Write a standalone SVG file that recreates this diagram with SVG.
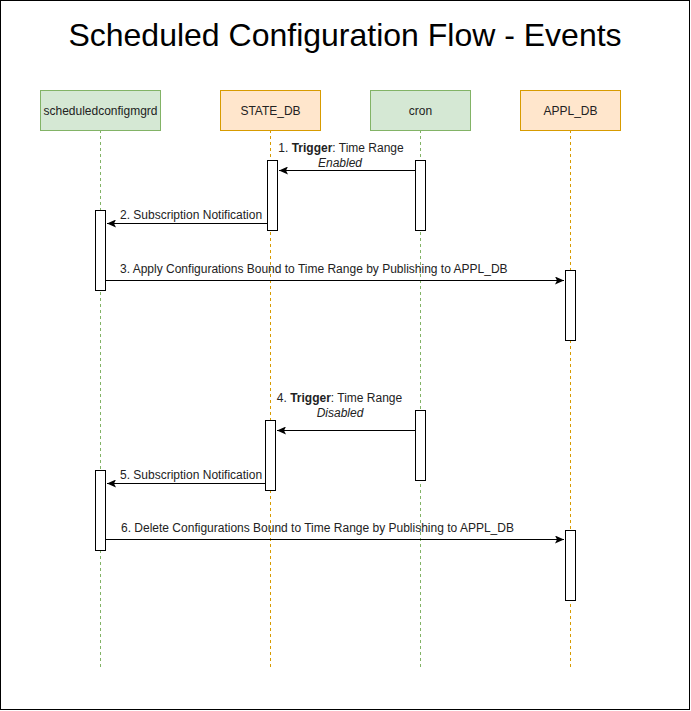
<svg xmlns="http://www.w3.org/2000/svg" width="691" height="711" viewBox="0 0 691 711">
<defs>
<style>
text{font-family:"Liberation Sans",Arial,sans-serif;fill:#222;}
.title{font-size:32px;fill:#000;}
.lbl{font-size:12px;}
.nodeG rect{fill:#d5e8d4;stroke:#82b366;stroke-width:1;}
.nodeO rect{fill:#ffe6cc;stroke:#d79b00;stroke-width:1;}
.llG{stroke:#82b366;stroke-dasharray:3,3;fill:none;}
.llO{stroke:#d79b00;stroke-dasharray:3,3;fill:none;}
.act{fill:#fff;stroke:#000;stroke-width:1;}
.msg{stroke:#000;stroke-width:1;fill:none;marker-end:url(#ah);}
</style>
<marker id="ah" viewBox="0 0 10 8" refX="9" refY="4" markerWidth="10" markerHeight="8" markerUnits="userSpaceOnUse" orient="auto">
<path d="M0,0 L9,4 L0,8 L2,4 z" fill="#000"/>
</marker>
</defs>
<rect x="0.5" y="0.5" width="689" height="709" fill="#fff" stroke="#000" stroke-width="1"/>
<text class="title" x="345" y="46" text-anchor="middle">Scheduled Configuration Flow - Events</text>

<g id="lifelines">
<line class="llG" x1="100.5" y1="130" x2="100.5" y2="667"/>
<line class="llO" x1="270.5" y1="130" x2="270.5" y2="667"/>
<line class="llG" x1="420.5" y1="130" x2="420.5" y2="667"/>
<line class="llO" x1="570.5" y1="130" x2="570.5" y2="667"/>
</g>

<g id="scheduledconfigmgrd" class="nodeG">
<rect x="40.5" y="90.5" width="120" height="40"/>
<text class="lbl" x="100.5" y="114.5" text-anchor="middle">scheduledconfigmgrd</text>
</g>
<g id="STATE_DB" class="nodeO">
<rect x="220.5" y="90.5" width="100" height="40"/>
<text class="lbl" x="270.5" y="114.5" text-anchor="middle">STATE_DB</text>
</g>
<g id="cron" class="nodeG">
<rect x="370.5" y="90.5" width="100" height="40"/>
<text class="lbl" x="420.5" y="114.5" text-anchor="middle">cron</text>
</g>
<g id="APPL_DB" class="nodeO">
<rect x="520.5" y="90.5" width="100" height="40"/>
<text class="lbl" x="570.5" y="114.5" text-anchor="middle">APPL_DB</text>
</g>

<g id="activations">
<rect class="act" x="267.5" y="160.5" width="10" height="70"/>
<rect class="act" x="415.5" y="160.5" width="10" height="70"/>
<rect class="act" x="95.5" y="210.5" width="10" height="80"/>
<rect class="act" x="565.5" y="270.5" width="10" height="70"/>
<rect class="act" x="265.5" y="420.5" width="10" height="70"/>
<rect class="act" x="415.5" y="410.5" width="10" height="70"/>
<rect class="act" x="95.5" y="470.5" width="10" height="80"/>
<rect class="act" x="565.5" y="530.5" width="10" height="70"/>
</g>

<g id="connectors">
<line class="msg" x1="415.5" y1="170.5" x2="279" y2="170.5"/>
<line class="msg" x1="267.5" y1="223.5" x2="107" y2="223.5"/>
<line class="msg" x1="105.5" y1="280.5" x2="564" y2="280.5"/>
<line class="msg" x1="415.5" y1="430.5" x2="277" y2="430.5"/>
<line class="msg" x1="265.5" y1="483.5" x2="107" y2="483.5"/>
<line class="msg" x1="105.5" y1="539.5" x2="564" y2="539.5"/>
</g>

<g id="labels">
<text class="lbl" x="341" y="152" text-anchor="middle">1. <tspan font-weight="bold">Trigger</tspan>: Time Range</text>
<text class="lbl" x="340" y="167" text-anchor="middle" font-style="italic">Enabled</text>
<text class="lbl" x="120" y="219">2. Subscription Notification</text>
<text class="lbl" x="120" y="273">3. Apply Configurations Bound to Time Range by Publishing to APPL_DB</text>
<text class="lbl" x="339.5" y="402" text-anchor="middle">4. <tspan font-weight="bold">Trigger</tspan>: Time Range</text>
<text class="lbl" x="340" y="417" text-anchor="middle" font-style="italic">Disabled</text>
<text class="lbl" x="120" y="479">5. Subscription Notification</text>
<text class="lbl" x="121" y="532">6. Delete Configurations Bound to Time Range by Publishing to APPL_DB</text>
</g>
</svg>
